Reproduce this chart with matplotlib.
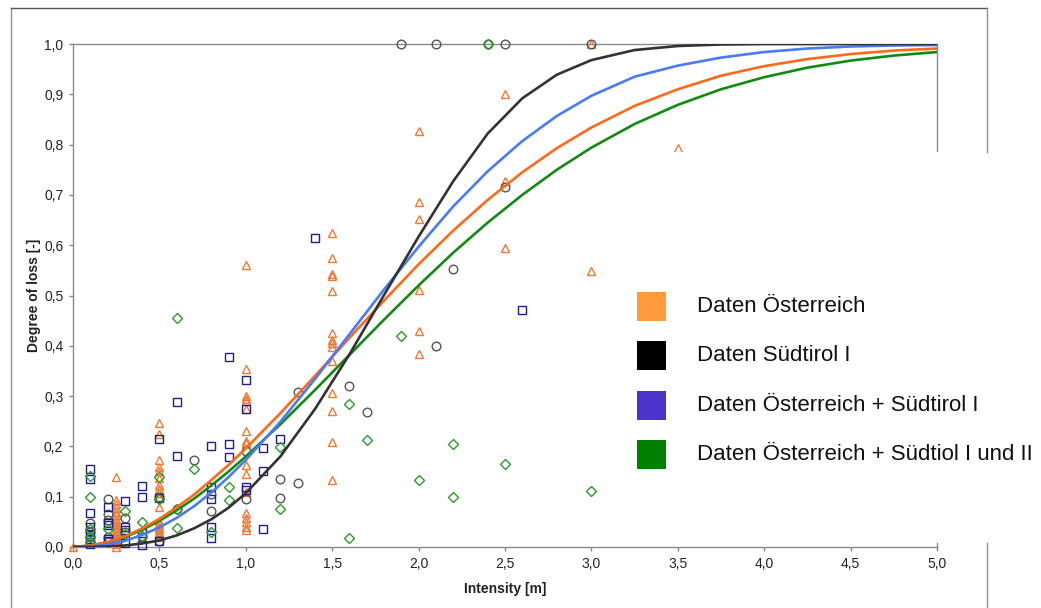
import matplotlib
matplotlib.use("Agg")
import matplotlib.pyplot as plt
from matplotlib.patches import Rectangle
from matplotlib.lines import Line2D

plt.rcParams['font.family'] = ['Liberation Sans', 'DejaVu Sans']

# ---------------- data ----------------
curve_x = [0, 0.1, 0.2, 0.3, 0.4, 0.5, 0.6, 0.7, 0.8, 0.9, 1.0, 1.2, 1.4, 1.6, 1.8,
           2.0, 2.2, 2.4, 2.6, 2.8, 3.0, 3.25, 3.5, 3.75, 4.0, 4.25, 4.5, 4.75, 5.0]
curve_aut = [0, 0.003, 0.010, 0.021, 0.037, 0.056, 0.079, 0.104, 0.133, 0.163, 0.196,
             0.266, 0.340, 0.416, 0.490, 0.562, 0.629, 0.690, 0.745, 0.793, 0.834,
             0.877, 0.910, 0.937, 0.956, 0.970, 0.980, 0.987, 0.991]
curve_st1 = [0, 0.000, 0.001, 0.003, 0.007, 0.013, 0.023, 0.037, 0.055, 0.078, 0.107,
             0.180, 0.274, 0.383, 0.501, 0.617, 0.727, 0.822, 0.892, 0.939, 0.968,
             0.988, 0.996, 0.999, 1.0, 1.0, 1.0, 1.0, 1.0]
curve_aut_st1 = [0, 0.001, 0.005, 0.012, 0.024, 0.039, 0.058, 0.081, 0.108, 0.139, 0.173,
                 0.249, 0.334, 0.423, 0.512, 0.597, 0.677, 0.747, 0.807, 0.857, 0.897,
                 0.935, 0.957, 0.973, 0.984, 0.991, 0.995, 0.997, 0.998]
curve_all = [0, 0.003, 0.009, 0.020, 0.034, 0.052, 0.073, 0.096, 0.122, 0.150, 0.180,
             0.244, 0.312, 0.382, 0.452, 0.520, 0.585, 0.645, 0.700, 0.750, 0.794,
             0.841, 0.879, 0.910, 0.934, 0.953, 0.967, 0.977, 0.984]

# Österreich (triangles)
tri_x = ([0.0] + [0.25] * 17 + [0.5] * 18 + [1.0] * 17 + [1.5] * 14 + [2.0] * 6
         + [2.5] * 3 + [3.0] * 2 + [3.5])
tri_y = ([0.0]
         + [0.14, 0.093, 0.085, 0.077, 0.07, 0.063, 0.056, 0.05, 0.044, 0.038, 0.032,
            0.026, 0.02, 0.015, 0.01, 0.005, 0.0]
         + [0.246, 0.225, 0.173, 0.16, 0.152, 0.137, 0.123, 0.115, 0.108, 0.10, 0.08,
            0.052, 0.045, 0.04, 0.035, 0.03, 0.025, 0.02]
         + [0.561, 0.354, 0.30, 0.295, 0.29, 0.275, 0.231, 0.211, 0.207, 0.163, 0.145,
            0.11, 0.067, 0.058, 0.05, 0.04, 0.034]
         + [0.624, 0.574, 0.543, 0.538, 0.508, 0.426, 0.412, 0.405, 0.398, 0.37, 0.307,
            0.271, 0.208, 0.133]
         + [0.827, 0.685, 0.652, 0.51, 0.429, 0.383]
         + [0.90, 0.728, 0.594]
         + [1.0, 0.549]
         + [0.793])

# Südtirol I (circles)
cir_x = ([0.1] * 3 + [0.2] * 5 + [0.3] * 2 + [0.4] + [0.5] * 2 + [0.6] + [0.7]
         + [0.8] * 2 + [1.0] * 2 + [1.2] * 2 + [1.3] * 2 + [1.6] + [1.7] + [1.9]
         + [2.1] * 2 + [2.2] + [2.4] + [2.5] * 2 + [3.0])
cir_y = ([0.047, 0.03, 0.02] + [0.095, 0.065, 0.054, 0.02, 0.01] + [0.057, 0.03]
         + [0.02] + [0.099, 0.012] + [0.075] + [0.173] + [0.105, 0.072]
         + [0.19, 0.095] + [0.135, 0.098] + [0.309, 0.127] + [0.321] + [0.268]
         + [1.0] + [1.0, 0.40] + [0.552] + [1.0] + [1.0, 0.715] + [1.0])

# squares
sq_x = ([0.1] * 7 + [0.2] * 5 + [0.3] * 5 + [0.4] * 4 + [0.5] * 3 + [0.6] * 2
        + [0.8] * 5 + [0.9] * 3 + [1.0] * 4 + [1.1] * 3 + [1.2] + [1.4] + [2.6])
sq_y = ([0.156, 0.135, 0.068, 0.04, 0.025, 0.015, 0.005]
        + [0.079, 0.047, 0.043, 0.016, 0.011]
        + [0.092, 0.040, 0.034, 0.024, 0.007]
        + [0.122, 0.10, 0.027, 0.004]
        + [0.214, 0.097, 0.011]
        + [0.289, 0.18]
        + [0.20, 0.119, 0.095, 0.04, 0.017]
        + [0.377, 0.204, 0.178]
        + [0.332, 0.274, 0.12, 0.113]
        + [0.197, 0.152, 0.036]
        + [0.214] + [0.614] + [0.471])

# diamonds
dia_x = ([0.1] * 5 + [0.2] + [0.3] * 2 + [0.4] * 2 + [0.5] * 2 + [0.6] * 3 + [0.7]
         + [0.8] + [0.9] * 2 + [1.2] * 2 + [1.6] * 2 + [1.7] + [1.9] + [2.0]
         + [2.2] * 2 + [2.4] + [2.5] + [3.0])
dia_y = ([0.142, 0.10, 0.035, 0.02, 0.01] + [0.035] + [0.072, 0.025] + [0.05, 0.022]
         + [0.139, 0.095] + [0.455, 0.075, 0.038] + [0.156] + [0.03] + [0.12, 0.093]
         + [0.198, 0.075] + [0.284, 0.017] + [0.213] + [0.42] + [0.133]
         + [0.204, 0.10] + [1.0] + [0.166] + [0.111])

legend_labels = ["Daten Österreich", "Daten Südtirol I",
                 "Daten Österreich + Südtirol I", "Daten Österreich + Südtiol I und II"]
legend_colors = ["#FF9A3C", "#000000", "#4B33CC", "#008000"]

x_ticks = [0, 0.5, 1.0, 1.5, 2.0, 2.5, 3.0, 3.5, 4.0, 4.5, 5.0]
y_ticks = [0, 0.1, 0.2, 0.3, 0.4, 0.5, 0.6, 0.7, 0.8, 0.9, 1.0]

# ---------------- figure ----------------
W, H = 1041, 608
fig = plt.figure(figsize=(W / 100, H / 100), dpi=100)
ax = fig.add_axes([73 / W, 1 - 547 / H, (937 - 73) / W, (547 - 44) / H])

ms = 6.2
ax.plot(tri_x, tri_y, ls='none', marker='^', ms=ms, mfc='none', mec='#EE7A35', mew=1.0, clip_on=False, zorder=3)
ax.plot(cir_x, cir_y, ls='none', marker='o', ms=ms, mfc='none', mec='#555555', mew=1.0, clip_on=False, zorder=3)
ax.plot(sq_x, sq_y, ls='none', marker='s', ms=ms - 0.5, mfc='none', mec='#1E1E8C', mew=1.0, clip_on=False, zorder=3)
ax.plot(dia_x, dia_y, ls='none', marker='D', ms=ms - 1.6, mfc='none', mec='#2E9A2E', mew=1.0, clip_on=False, zorder=3)

lw = 1.9
ax.plot(curve_x, curve_all, color='#128A12', lw=lw, zorder=4, solid_joinstyle='round')
ax.plot(curve_x, curve_aut, color='#FF6A1A', lw=lw, zorder=4, solid_joinstyle='round')
ax.plot(curve_x, curve_aut_st1, color='#4A7BF7', lw=lw, zorder=4, solid_joinstyle='round')
ax.plot(curve_x, curve_st1, color='#333333', lw=lw, zorder=4, solid_joinstyle='round')

ax.set_xlim(0, 5)
ax.set_ylim(0, 1)
ax.set_xticks(x_ticks)
ax.set_yticks(y_ticks)
ax.set_xticklabels([f"{v:.1f}".replace('.', ',') for v in x_ticks])
ax.set_yticklabels([f"{v:.1f}".replace('.', ',') for v in y_ticks])
ax.tick_params(axis='both', labelsize=10, colors='#888888', labelcolor='#222222',
               length=3, width=1, direction='out')
ax.tick_params(axis='x', pad=4)
ax.tick_params(axis='y', pad=4)
for s in ax.spines.values():
    s.set_color('#8a8a8a')
    s.set_linewidth(1.0)

ax.set_xlabel("Intensity [m]", fontsize=10, fontweight='bold', labelpad=8, color='#222222')
ax.set_ylabel("Degree of loss [-]", fontsize=10, fontweight='bold', labelpad=2, color='#222222')

# white panel holding the legend (covers part of the frame)
def fx(px):
    return px / W

def fy(py):
    return 1 - py / H

fig.add_artist(Rectangle((fx(605), fy(543)), fx(1041) - fx(605), fy(152) - fy(543),
                         transform=fig.transFigure, facecolor='white', edgecolor='none', zorder=5))

# outer frame lines
frame_col = '#8f8f8f'
fig.add_artist(Line2D([fx(11), fx(11)], [fy(8), fy(608)], transform=fig.transFigure, color=frame_col, lw=1.0, zorder=6))
fig.add_artist(Line2D([fx(11), fx(987)], [fy(8), fy(8)], transform=fig.transFigure, color='#555555', lw=1.0, zorder=6))
fig.add_artist(Line2D([fx(987), fx(987)], [fy(8), fy(152)], transform=fig.transFigure, color=frame_col, lw=1.0, zorder=6))
fig.add_artist(Line2D([fx(987), fx(987)], [fy(543), fy(608)], transform=fig.transFigure, color=frame_col, lw=1.0, zorder=6))

# legend
tops = [292, 341, 391, 440]
for top, lab, col in zip(tops, legend_labels, legend_colors):
    fig.add_artist(Rectangle((fx(637), fy(top + 29)), fx(666) - fx(637), fy(top) - fy(top + 29),
                             transform=fig.transFigure, facecolor=col, edgecolor='none', zorder=7))
    fig.text(fx(697), fy(top + 14.5), lab, fontsize=16, va='center', ha='left',
             color='#111111', zorder=7)

fig.savefig("out.png", dpi=100, facecolor='white')
